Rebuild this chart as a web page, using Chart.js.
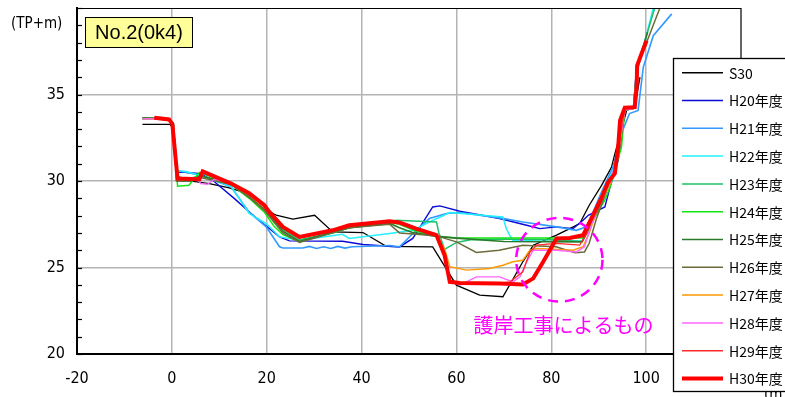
<!DOCTYPE html>
<html>
<head>
<meta charset="utf-8">
<script src="https://cdn.jsdelivr.net/npm/chart.js@4/dist/chart.umd.min.js"></script>
<style>
  html, body { margin: 0; padding: 0; background: #fff; }
  #wrap { width: 785px; height: 397px; position: relative; }
</style>
</head>
<body>
<div id="wrap"><canvas id="c" width="785" height="397"></canvas></div>
<script>
// Cross-section No.2 (0k4): ground elevation (TP+m) against distance (m)
const X_MIN = -20, X_MAX = 120, X_STEP = 20;
const Y_MIN = 20, Y_MAX = 40, Y_STEP = 5;

const SERIES_LABELS = ['S30', 'H20年度', 'H21年度', 'H22年度', 'H23年度', 'H24年度',
  'H25年度', 'H26年度', 'H27年度', 'H28年度', 'H29年度', 'H30年度'];

// survey profiles: [distance, elevation]
const S30 = [[-6.2,33.27],[-0.4,33.27],[0.4,33.0],[1.3,30.1],[7.9,29.85],[12.1,29.6],[14.9,29.37],
  [19.5,28.4],[22.0,28.02],[25.5,27.8],[30.1,28.02],[33.9,27.06],[40.3,27.02],[45.2,26.22],
  [55.0,26.19],[60.0,23.98],[64.9,23.4],[69.8,23.31],[74.0,25.33],[76.2,26.29],[81.1,26.87],
  [83.9,27.25],[86.0,27.54],[88.0,28.6],[90.6,29.75],[92.7,30.8],[93.4,31.57],[95.9,34.08],
  [97.6,34.3],[98.7,36.0]];
const H20 = [[-6.2,33.6],[-0.5,33.55],[0.3,33.3],[1.0,30.5],[1.9,30.52],[6.1,30.43],[8.6,30.04],
  [13.2,28.98],[16.7,28.12],[19.9,27.4],[22.7,26.77],[24.8,26.54],[36.0,26.52],[40.3,26.33],
  [48.0,26.19],[50.8,26.68],[55.0,28.5],[56.5,28.56],[60.7,28.25],[69.1,27.83],[74.8,27.44],
  [77.6,27.25],[81.1,27.35],[84.6,27.25],[86.7,27.73],[87.8,28.02],[89.2,28.21],[91.3,28.5],
  [92.3,29.56],[94.1,31.2],[95.5,34.1],[97.3,34.2],[98.0,36.6],[99.5,37.6]];
const H21 = [[-6.2,33.62],[-0.5,33.55],[0.3,33.3],[0.9,30.6],[2.6,30.52],[6.1,30.33],[12.5,29.65],
  [16.3,28.2],[19.9,27.35],[22.7,26.2],[23.4,26.13],[27.6,26.13],[29.0,26.22],[30.5,26.1],
  [32.0,26.2],[33.5,26.1],[35.0,26.22],[36.5,26.12],[38.0,26.2],[45.9,26.27],[48.0,26.19],
  [51.5,27.15],[54.3,27.83],[57.9,28.12],[60.7,28.18],[69.1,27.87],[74.0,27.63],[81.1,27.35],
  [85.3,27.15],[87.4,27.35],[88.5,28.0],[90.5,29.3],[93.0,30.8],[95.0,32.9],[96.5,33.9],
  [98.3,34.08],[99.4,36.58],[101.5,38.4],[105.4,39.66]];
const H22 = [[-6.2,33.6],[-0.5,33.55],[0.3,33.3],[0.9,30.6],[3.0,30.55],[6.1,30.3],[12.5,29.7],
  [16.3,28.12],[19.9,27.54],[22.7,26.77],[26.9,26.58],[36.0,26.92],[37.4,26.68],[45.9,26.96],
  [50.8,27.15],[54.3,27.63],[58.6,28.18],[69.8,27.92],[70.5,27.25],[71.2,26.87],[71.9,26.58],
  [80.0,26.5],[86.5,26.55],[88.0,27.3],[90.5,29.2],[93.0,30.6],[94.5,32.0],[95.5,34.2],
  [97.4,34.3],[98.2,36.4],[101.5,40.0]];
const H23 = [[-6.2,33.65],[-0.5,33.6],[0.3,33.3],[1.0,30.3],[3.0,30.1],[6.0,30.3],[12.5,29.8],
  [16.3,29.1],[19.5,28.4],[20.5,28.1],[23.4,27.2],[26.9,26.6],[33.9,27.0],[37.4,27.3],
  [45.9,27.6],[47.3,27.73],[55.8,27.63],[56.3,27.0],[57.5,26.05],[60.0,26.45],[63.0,26.6],
  [70.0,26.65],[80.0,26.6],[86.5,26.5],[88.0,27.3],[90.5,29.0],[93.0,30.4],[94.3,31.9],
  [95.5,34.1],[97.3,34.2],[98.0,36.5],[101.8,40.0]];
const H24 = [[-6.2,33.6],[-0.5,33.55],[0.3,33.3],[1.2,29.7],[3.6,29.75],[5.8,30.5],[12.5,29.8],
  [16.3,29.0],[19.5,28.2],[21.5,27.4],[23.4,26.9],[26.9,26.5],[33.9,27.0],[37.4,27.3],
  [45.9,27.6],[48.0,27.5],[51.5,27.1],[55.8,26.8],[60.0,26.7],[70.0,26.7],[80.0,26.7],
  [86.5,26.7],[88.5,27.6],[91.3,28.9],[92.4,29.65],[94.8,31.96],[95.5,34.1],[97.4,34.2],
  [98.1,36.5],[100.0,38.0]];
const H25 = [[-6.2,33.65],[-0.5,33.6],[0.3,33.3],[1.0,30.0],[4.0,30.0],[6.0,30.3],[12.5,29.85],
  [16.3,29.1],[19.5,28.35],[20.5,28.05],[23.4,27.1],[26.9,26.5],[33.9,27.05],[37.4,27.3],
  [45.9,27.55],[48.0,27.3],[51.0,27.0],[56.0,26.8],[60.0,26.7],[70.0,26.5],[86.5,26.48],
  [88.5,27.5],[91.0,29.1],[93.0,30.4],[94.5,32.2],[95.5,34.1],[97.4,34.2],[98.1,36.6],
  [100.3,38.6]];
const H26 = [[-6.2,33.62],[-0.5,33.55],[0.3,33.3],[1.0,30.0],[4.0,30.0],[6.0,30.2],[12.5,29.8],
  [16.3,29.05],[19.5,28.3],[23.4,27.0],[26.9,26.45],[33.9,27.0],[37.4,27.3],[45.9,27.5],
  [48.0,27.0],[53.0,26.9],[56.5,26.77],[60.0,26.48],[64.2,25.87],[69.0,26.0],[74.0,26.29],
  [81.0,26.2],[85.0,25.85],[87.0,25.9],[88.0,26.4],[89.5,27.8],[91.5,29.3],[93.2,30.5],
  [94.5,32.0],[95.5,34.1],[97.4,34.2],[98.1,36.6],[102.9,40.0]];
const H27 = [[-6.2,33.6],[-0.5,33.55],[0.3,33.3],[1.0,30.2],[5.5,30.1],[6.5,30.5],[12.5,29.85],
  [16.3,29.2],[19.5,28.45],[20.5,28.15],[23.4,27.3],[26.9,26.7],[33.9,27.15],[37.4,27.45],
  [45.9,27.7],[48.0,27.6],[51.5,27.2],[55.5,26.9],[57.5,26.1],[58.6,25.05],[62.1,24.85],
  [67.0,24.94],[69.8,25.13],[71.9,25.33],[74.0,25.42],[75.5,26.0],[77.0,26.1],[84.6,26.0],
  [86.7,26.2],[88.0,27.0],[90.0,28.6],[92.5,29.9],[94.0,31.4],[95.5,34.1],[97.4,34.2],
  [98.1,36.5],[99.8,37.8]];
const H28 = [[-6.2,33.6],[-0.5,33.55],[0.3,33.3],[1.0,30.2],[5.5,30.1],[6.1,29.85],[7.5,29.81],
  [9.0,30.1],[12.5,29.9],[16.3,29.25],[19.5,28.5],[20.5,28.2],[23.4,27.35],[26.9,26.8],
  [33.9,27.15],[37.4,27.45],[45.9,27.7],[48.0,27.6],[51.5,27.25],[55.8,26.87],[57.5,25.7],
  [58.6,24.27],[60.7,23.98],[64.2,24.46],[69.1,24.46],[71.9,24.17],[73.4,24.46],[74.8,25.33],
  [76.2,26.0],[81.1,26.0],[85.3,25.9],[87.0,26.2],[88.5,27.5],[90.5,28.9],[92.5,30.0],
  [94.0,31.5],[95.5,34.1],[97.4,34.2],[98.1,36.5],[99.5,37.5]];
const H29 = [[-3.7,33.64],[-0.5,33.57],[0.3,33.3],[1.1,30.15],[5.6,30.1],[6.4,30.5],[12.5,29.85],
  [16.3,29.25],[19.5,28.55],[20.5,28.2],[23.4,27.35],[26.9,26.75],[33.9,27.15],[37.4,27.45],
  [45.9,27.65],[48.0,27.6],[51.5,27.25],[55.8,26.87],[57.5,25.7],[58.6,24.2],[60.7,24.1],
  [69.1,24.1],[71.3,24.17],[74.0,24.75],[75.5,25.9],[76.9,26.29],[81.1,26.39],[86.0,26.29],
  [87.5,27.0],[89.5,28.6],[92.0,29.9],[93.5,30.5],[94.3,32.2],[95.5,34.2],[97.6,34.3],
  [98.1,36.6],[100.0,38.0]];
const H30 = [[-3.7,33.66],[-0.6,33.56],[0.1,33.3],[1.2,30.14],[5.8,30.1],[6.5,30.56],[12.5,29.85],
  [16.3,29.3],[19.5,28.6],[20.55,28.21],[23.4,27.35],[26.9,26.77],[33.9,27.15],[37.4,27.44],
  [45.9,27.67],[48.0,27.6],[51.5,27.25],[55.8,26.87],[57.5,25.71],[58.6,24.17],[60.7,24.11],
  [69.1,24.08],[74.0,24.02],[76.2,24.37],[78.3,25.33],[81.1,26.68],[83.9,26.71],[86.7,26.87],
  [87.4,27.25],[88.8,28.02],[90.2,28.79],[92.0,29.94],[93.4,30.43],[94.1,31.96],[94.5,33.5],
  [95.5,34.24],[97.6,34.27],[98.0,35.42],[98.1,36.67],[99.0,37.35],[100.1,38.1]];

const PROFILES = [S30, H20, H21, H22, H23, H24, H25, H26, H27, H28, H29, H30];
const COLORS = ['#000000', '#0a0ad8', '#3399ff', '#22f0ff', '#1fbf6a', '#11e611',
  '#2a7a2a', '#6b6b3a', '#ff9900', '#ff66ff', '#ff2a2a', '#ff0000'];
const WIDTHS = [1.3, 1.4, 1.6, 1.5, 1.5, 1.5, 1.6, 1.5, 1.4, 1.4, 1.3, 4];

// revetment works annotation: ellipse centre / radii (data units) and caption
const NOTE_CENTER = [81.7, 25.45];
const NOTE_RADII = [9.1, 2.42];
const NOTE_TEXT = '護岸工事によるもの';
const NOTE_TEXT_AT = [82.6, 21.65];
const TITLE = 'No.2(0k4)';
const Y_UNIT = '(TP+m)';
const X_UNIT = '(m)';

const NARROW = "'Liberation Sans Narrow', 'DejaVu Sans Condensed', 'Liberation Sans', sans-serif";
const JP = "'Noto Sans CJK JP', 'Noto Sans', sans-serif";

const datasets = PROFILES.map((pts, i) => ({
  label: SERIES_LABELS[i],
  data: pts.map(([x, y]) => ({ x, y })),
  borderColor: COLORS[i],
  backgroundColor: COLORS[i],
  borderWidth: WIDTHS[i],
  pointRadius: 0,
  tension: 0,
  fill: false,
  order: PROFILES.length - 1 - i
}));

const decorations = {
  id: 'decorations',
  afterDraw(chart) {
    const { ctx, chartArea: a, scales: { x, y } } = chart;
    ctx.save();

    // outer frame (top and right)
    ctx.strokeStyle = '#000';
    ctx.lineWidth = 1.2;
    ctx.beginPath();
    ctx.moveTo(a.left, a.top + 0.5);
    ctx.lineTo(a.right, a.top + 0.5);
    ctx.lineTo(a.right, a.bottom);
    ctx.stroke();

    // minor ticks on the elevation axis
    ctx.lineWidth = 1.2;
    for (let v = Y_MIN; v <= Y_MAX; v += 1) {
      const py = Math.round(y.getPixelForValue(v)) + 0.5;
      ctx.beginPath();
      ctx.moveTo(a.left, py);
      ctx.lineTo(a.left + 5, py);
      ctx.stroke();
    }

    // dashed ellipse around the revetment works
    const cx = x.getPixelForValue(NOTE_CENTER[0]);
    const cy = y.getPixelForValue(NOTE_CENTER[1]);
    const rx = x.getPixelForValue(NOTE_CENTER[0] + NOTE_RADII[0]) - cx;
    const ry = cy - y.getPixelForValue(NOTE_CENTER[1] + NOTE_RADII[1]);
    ctx.strokeStyle = '#ff00ff';
    ctx.lineWidth = 2.5;
    ctx.setLineDash([10, 7]);
    ctx.beginPath();
    ctx.ellipse(cx, cy, rx, ry, 0, 0, Math.PI * 2);
    ctx.stroke();
    ctx.setLineDash([]);

    ctx.fillStyle = '#ff00ff';
    ctx.font = '20px ' + JP;
    ctx.textAlign = 'center';
    ctx.textBaseline = 'middle';
    ctx.fillText(NOTE_TEXT, x.getPixelForValue(NOTE_TEXT_AT[0]), y.getPixelForValue(NOTE_TEXT_AT[1]));

    // title box
    ctx.fillStyle = '#ffff99';
    ctx.fillRect(85.5, 17.5, 107, 30);
    ctx.strokeStyle = '#000';
    ctx.lineWidth = 1;
    ctx.strokeRect(85.5, 17.5, 107, 30);
    ctx.fillStyle = '#000';
    ctx.font = "20px 'Liberation Sans', Arial, sans-serif";
    ctx.textAlign = 'center';
    ctx.fillText(TITLE, 139, 33);

    // axis unit labels
    ctx.font = '15px ' + NARROW;
    ctx.textAlign = 'left';
    ctx.fillText(Y_UNIT, 11, 24);
    ctx.textBaseline = 'top';
    ctx.fillText(X_UNIT, 764, 388);

    // legend box drawn over the plot's right side
    const lx = 673.5, ly = 58.5;
    ctx.fillStyle = '#fff';
    ctx.fillRect(lx, ly, 130, 333);
    ctx.strokeStyle = '#000';
    ctx.lineWidth = 1.3;
    ctx.strokeRect(lx, ly, 130, 333);
    ctx.font = '14px ' + JP;
    ctx.textBaseline = 'middle';
    ctx.textAlign = 'left';
    chart.data.datasets.forEach((ds, i) => {
      const ry2 = 72.7 + i * 27.8;
      ctx.strokeStyle = ds.borderColor;
      ctx.lineWidth = Math.max(ds.borderWidth, 1.5);
      ctx.beginPath();
      ctx.moveTo(682, ry2);
      ctx.lineTo(723, ry2);
      ctx.stroke();
      ctx.fillStyle = '#000';
      ctx.fillText(ds.label, 729, ry2 + 0.5);
    });

    ctx.restore();
  }
};

new Chart(document.getElementById('c'), {
  type: 'line',
  data: { datasets },
  options: {
    responsive: false,
    animation: false,
    events: [],
    layout: { padding: { top: 8, right: 44, left: 0, bottom: 0 } },
    plugins: { legend: { display: false }, tooltip: { enabled: false } },
    scales: {
      x: {
        type: 'linear',
        min: X_MIN, max: X_MAX,
        ticks: {
          stepSize: X_STEP,
          color: '#000',
          font: { family: NARROW, size: 16 },
          padding: 15,
          maxRotation: 0,
          callback: v => (v === X_MAX ? null : String(v))
        },
        grid: { color: '#b4b4b4', lineWidth: 1.5, drawTicks: false },
        border: { color: '#000', width: 2 },
        afterFit: s => { s.height = 43; s.paddingLeft = 0; s.paddingRight = 0; }
      },
      y: {
        type: 'linear',
        min: Y_MIN, max: Y_MAX,
        ticks: {
          stepSize: Y_STEP,
          color: '#000',
          font: { family: NARROW, size: 16 },
          padding: 12,
          callback: v => (v === Y_MAX ? null : String(v))
        },
        grid: { color: '#b4b4b4', lineWidth: 1.5, drawTicks: false },
        border: { color: '#000', width: 2 },
        afterFit: s => { s.width = 77; s.paddingTop = 0; s.paddingBottom = 0; }
      }
    }
  },
  plugins: [decorations]
});
</script>
</body>
</html>
